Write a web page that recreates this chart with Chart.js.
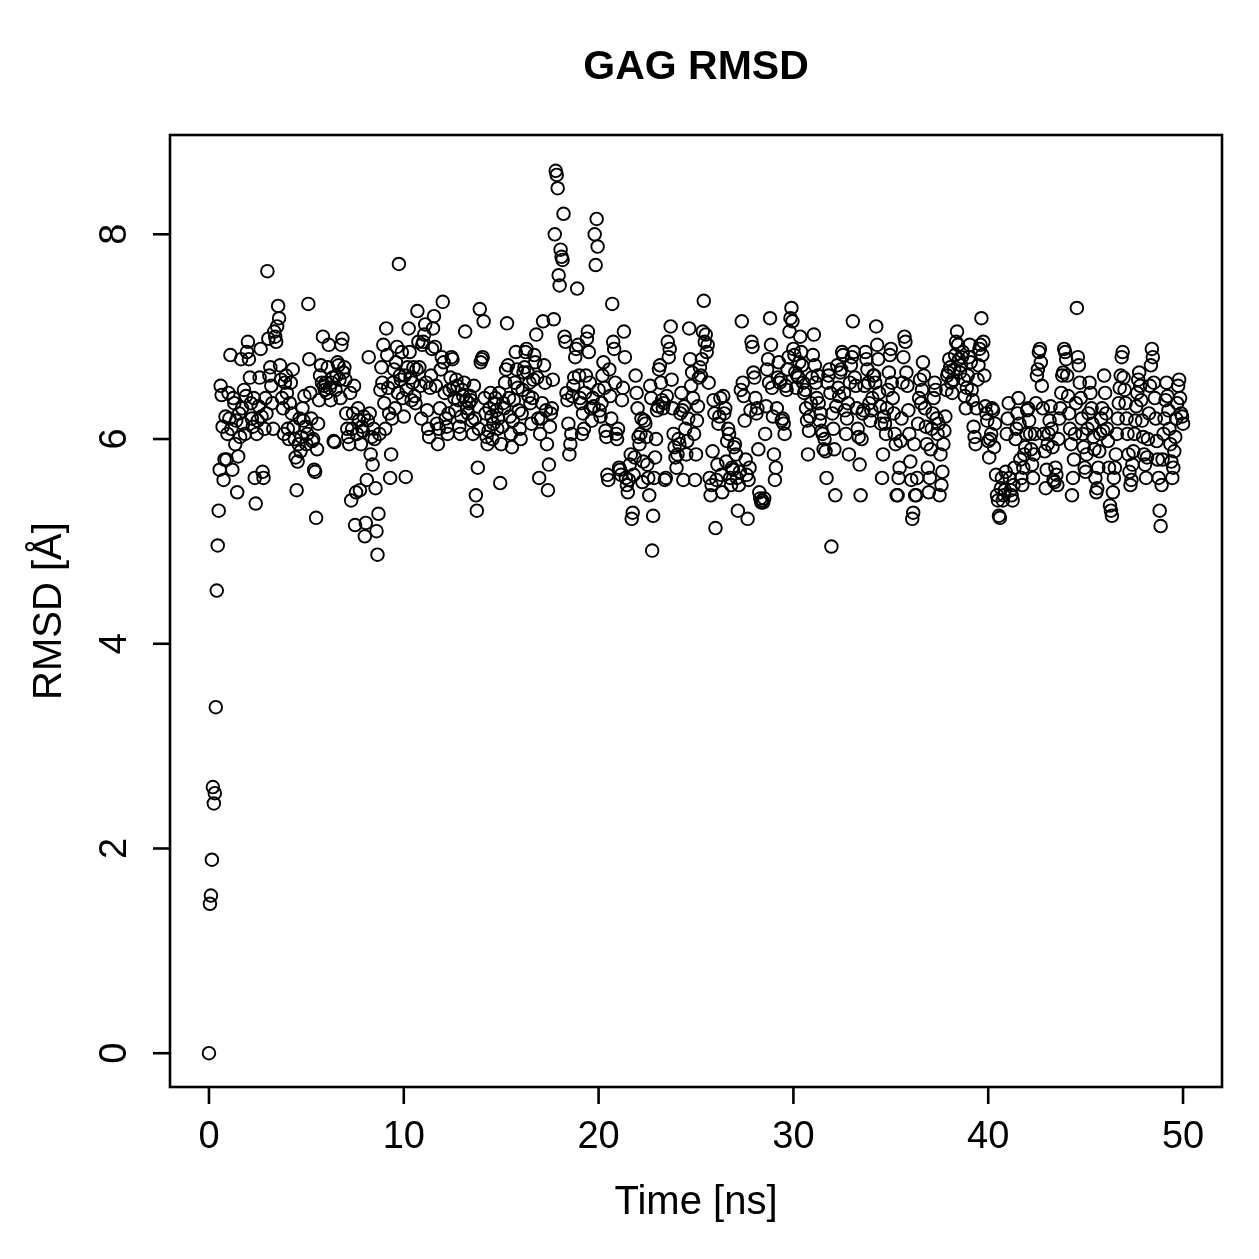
<!DOCTYPE html>
<html>
<head>
<meta charset="utf-8">
<script src="https://cdn.jsdelivr.net/npm/chart.js@4/dist/chart.umd.min.js"></script>
<style>
  body { margin: 0; background: #fff; }
  #wrap { width: 1259px; height: 1259px; }
</style>
</head>
<body>
<div id="wrap"><canvas id="rmsdChart" width="1259" height="1259"></canvas></div>
<script>
// RMSD trace, one line per nanosecond (sampled every 0.05 ns)
const timeStep = 0.05;
const rmsd = [
  0.00,1.46,1.54,1.89,2.60,2.44,2.54,3.38,4.52,4.96,5.30,5.70,6.52,6.43,6.12,5.60,5.80,6.22,5.80,6.05,
  6.45,6.20,6.82,6.10,5.70,6.40,6.35,5.95,6.18,5.48,5.83,6.25,6.02,6.78,6.30,6.15,6.48,6.05,6.42,6.85,
  6.95,6.78,6.60,6.35,6.20,6.12,6.40,5.62,5.37,6.05,6.18,6.32,6.60,6.88,6.22,5.68,5.62,6.10,6.40,6.25,
  7.64,6.98,6.62,6.70,6.52,6.35,6.10,7.05,7.00,6.95,7.10,7.30,7.18,6.72,6.58,6.40,6.30,6.05,6.55,6.62,
  6.45,6.10,6.00,6.35,6.55,6.25,6.68,6.12,6.00,5.82,5.50,5.78,5.95,6.20,5.88,6.02,6.30,6.18,6.42,6.12,
  5.95,6.05,7.32,6.78,6.45,6.20,5.98,6.00,5.70,5.68,5.23,5.90,6.15,6.38,6.62,6.72,6.55,7.00,6.52,6.48,
  6.55,6.45,6.70,6.92,6.50,6.38,6.55,6.60,5.98,5.97,6.48,6.62,6.75,6.72,6.58,6.40,6.92,6.98,6.65,6.70,
  6.58,6.25,6.10,6.02,5.95,6.45,5.40,6.10,6.25,6.52,5.16,5.48,6.05,6.30,6.18,5.50,5.95,6.12,6.08,6.22,
  5.05,5.18,5.60,6.18,6.80,6.25,5.85,6.02,5.75,6.10,6.00,5.52,5.10,4.87,5.27,6.05,6.48,6.70,6.55,6.92,
  6.35,6.10,7.08,6.82,6.50,6.25,5.62,5.85,6.20,6.55,6.68,6.30,6.75,6.90,6.45,7.71,6.62,6.58,6.85,6.40,
  6.22,6.62,5.63,6.48,6.70,7.08,6.85,6.60,6.38,6.55,6.70,6.42,6.35,6.68,7.25,6.95,6.70,6.52,6.20,6.92,
  6.95,7.02,7.12,6.55,6.28,6.10,6.02,6.50,6.62,6.88,7.08,7.20,6.90,6.52,6.15,5.95,6.10,6.30,6.68,6.80,
  7.34,6.75,6.45,6.20,6.12,6.05,6.25,6.48,6.60,6.80,6.78,6.50,6.40,6.28,6.58,6.52,6.38,6.12,6.05,6.22,
  6.48,6.42,6.55,7.05,6.38,6.30,6.25,6.35,6.42,6.38,6.18,6.05,6.52,6.20,5.45,5.30,5.72,6.10,7.27,6.75,
  6.78,6.80,7.15,6.40,6.25,6.02,5.95,6.08,6.30,6.45,6.22,6.00,6.15,6.35,6.40,6.28,6.10,6.20,6.45,5.57,
  5.95,6.12,6.35,6.30,6.55,6.68,7.13,6.72,6.40,6.22,6.05,5.92,6.18,6.38,6.55,6.85,6.68,6.50,6.28,6.10,
  6.00,6.25,6.48,6.65,6.70,6.85,6.88,6.65,6.42,6.55,6.35,6.15,6.40,6.58,6.82,6.75,7.02,6.60,6.20,5.62,
  6.05,6.20,6.35,7.15,6.72,6.55,6.28,5.95,5.50,5.75,6.12,6.25,6.30,6.58,7.17,8.00,8.62,8.58,8.45,7.60,
  7.50,7.85,7.78,7.75,8.20,7.00,6.95,6.45,6.38,6.15,5.85,5.95,6.05,6.42,6.52,6.60,6.80,6.88,7.47,6.92,
  6.62,6.40,6.35,6.05,6.25,6.10,6.45,6.62,6.98,7.05,6.85,6.55,6.30,6.18,6.40,6.32,8.00,7.70,8.15,7.88,
  6.48,6.28,6.22,6.35,6.62,6.75,6.50,6.08,6.02,5.65,5.60,6.68,6.42,6.20,7.32,6.95,6.88,6.55,6.05,6.00,
  6.10,5.72,5.70,5.65,6.38,6.50,7.05,6.80,5.62,5.55,5.48,5.60,5.75,5.85,5.22,5.28,5.65,5.82,6.62,6.45,
  6.30,6.02,5.95,6.05,6.20,5.58,5.78,6.18,6.15,6.02,5.75,5.62,5.45,6.52,6.40,4.91,5.25,5.62,5.82,6.00,
  6.28,6.32,6.68,6.72,6.55,6.38,6.30,6.35,5.60,5.62,6.42,6.95,6.80,6.88,7.10,6.58,6.30,6.05,5.92,5.82,
  5.72,5.85,6.00,5.95,6.25,6.45,6.28,5.60,6.32,6.10,5.85,5.98,6.20,7.08,6.78,6.52,6.65,6.40,6.05,5.60,
  5.85,6.18,6.32,6.60,6.70,6.62,6.78,7.05,7.35,6.95,7.02,6.85,6.92,6.55,5.62,5.45,5.55,5.88,6.38,6.25,
  5.13,5.60,5.75,6.15,6.22,6.40,5.65,5.48,6.42,6.25,6.30,5.78,5.98,6.10,6.05,5.62,5.55,5.72,5.70,5.92,
  5.95,5.85,5.62,5.30,5.55,5.68,6.48,7.15,6.55,6.42,6.18,5.80,5.65,5.22,5.60,5.72,6.28,6.95,6.90,6.65,
  6.60,6.40,6.25,6.30,5.90,5.48,5.42,5.38,5.40,5.38,5.42,6.05,6.32,6.68,6.78,6.55,7.18,6.92,6.50,6.22,
  5.85,5.60,5.72,6.30,6.60,6.75,6.55,6.58,6.18,6.20,6.15,6.05,6.52,6.48,6.68,6.80,7.05,7.18,7.28,7.15,
  6.88,6.82,6.65,6.50,6.62,6.60,6.75,7.00,6.85,6.72,6.55,6.45,6.48,6.30,6.18,5.85,6.08,6.22,6.35,6.60,
  6.82,7.02,6.72,6.55,6.40,6.62,6.35,6.18,6.25,6.08,6.05,5.90,6.00,5.88,5.62,6.55,6.62,6.68,6.45,4.95,
  6.25,6.10,5.90,5.45,6.32,6.72,6.50,6.42,6.65,6.68,6.85,6.82,6.45,6.28,6.05,6.20,6.35,5.85,6.55,6.72,
  6.80,7.15,6.85,6.60,6.52,6.30,6.10,6.02,5.75,5.45,6.00,6.25,6.28,6.52,6.85,6.78,6.68,6.55,6.35,6.18,
  6.28,6.40,6.62,6.62,6.55,7.10,6.92,6.78,6.45,6.32,6.15,5.62,5.85,6.22,6.15,6.05,6.30,6.48,6.65,6.82,
  6.88,6.55,6.40,6.25,6.05,5.95,5.45,5.45,5.62,5.72,5.98,6.20,6.55,6.80,7.00,6.95,6.65,6.52,6.28,6.05,
  5.78,5.60,5.22,5.28,5.95,5.45,5.45,5.62,6.15,6.40,6.58,6.35,6.48,6.75,6.62,6.30,6.12,5.95,5.72,5.48,
  5.62,5.90,6.10,6.25,6.40,6.55,6.48,6.20,6.05,6.15,5.45,5.85,5.55,5.68,5.95,6.08,6.22,6.48,6.62,6.65,
  6.78,6.70,6.55,6.45,6.58,6.68,6.82,6.95,7.05,6.92,6.78,6.65,6.72,6.80,6.85,6.58,6.42,6.30,6.50,6.62,
  6.80,6.92,6.75,6.48,6.38,6.12,6.02,5.95,6.30,6.58,6.72,6.88,6.92,7.18,6.82,6.95,6.62,6.32,6.25,6.18,
  5.98,5.82,6.00,6.05,6.30,6.28,5.92,6.15,5.65,5.45,5.40,5.25,5.23,5.52,5.62,5.40,5.45,5.50,5.68,6.05,
  6.20,6.35,5.62,5.50,5.45,5.40,5.55,5.72,6.00,6.10,6.25,6.40,6.15,5.80,5.62,5.55,5.72,5.85,5.92,6.05,
  6.28,6.30,6.18,6.05,5.90,5.75,5.62,5.85,6.05,6.35,6.62,6.68,6.85,6.88,6.75,6.52,6.30,6.05,5.88,5.52,
  5.70,5.95,6.05,6.18,6.32,6.10,5.92,5.60,5.58,5.72,5.65,5.55,6.00,6.20,6.30,6.45,6.62,6.65,6.88,6.85,
  6.78,6.62,6.42,6.25,6.10,5.95,5.45,5.62,5.80,6.05,6.35,7.28,6.80,6.72,6.55,6.40,6.20,6.05,5.92,5.72,
  5.68,5.85,6.10,6.25,6.55,6.45,6.30,6.15,6.02,5.90,5.62,5.48,5.52,5.72,5.88,6.05,6.20,6.30,6.08,6.62,
  6.45,6.25,6.10,5.98,5.72,5.35,5.30,5.25,5.48,5.62,5.72,5.85,6.05,6.20,6.35,6.50,6.62,6.80,6.85,6.60,
  6.48,6.35,6.20,6.05,5.85,5.68,5.55,5.60,5.75,5.88,6.05,6.18,6.32,6.45,6.58,6.65,6.52,6.38,6.18,6.02,
  5.85,5.75,5.62,5.82,6.00,6.25,6.52,6.72,6.88,6.80,6.55,6.40,6.20,5.98,5.80,5.62,5.30,5.15,5.55,5.80,
  6.05,6.20,6.38,6.55,6.42,6.28,6.10,5.95,5.78,5.62,5.72,5.88,6.02,6.20,6.35,6.52,6.58,6.40,6.25,6.22,
  6.15
];

const xTicks = [0, 10, 20, 30, 40, 50];
const yTicks = [0, 2, 4, 6, 8];
const chartTitle = "GAG RMSD";
const xTitle = "Time [ns]";
const yTitle = "RMSD [Å]";

const points = rmsd.map((v, i) => ({ x: +(i * timeStep).toFixed(2), y: v }));

// R-style frame, ticks and labels drawn through the chart's own scales
const rFrame = {
  id: 'rFrame',
  afterDraw(chart) {
    const ctx = chart.ctx;
    const a = chart.chartArea;
    const xs = chart.scales.x, ys = chart.scales.y;
    const tick = 17;
    ctx.save();
    ctx.strokeStyle = '#000';
    ctx.lineWidth = 2.6;
    ctx.strokeRect(a.left, a.top, a.right - a.left, a.bottom - a.top);

    ctx.fillStyle = '#000';
    ctx.font = '38px "Liberation Sans", Arial, sans-serif';
    ctx.textAlign = 'center';
    ctx.textBaseline = 'middle';
    xTicks.forEach(t => {
      const px = xs.getPixelForValue(t);
      ctx.beginPath();
      ctx.moveTo(px, a.bottom);
      ctx.lineTo(px, a.bottom + tick);
      ctx.stroke();
      ctx.fillText(String(t), px, a.bottom + 51);
    });
    yTicks.forEach(t => {
      const py = ys.getPixelForValue(t);
      ctx.beginPath();
      ctx.moveTo(a.left, py);
      ctx.lineTo(a.left - tick, py);
      ctx.stroke();
      ctx.save();
      ctx.translate(a.left - 54, py);
      ctx.rotate(-Math.PI / 2);
      ctx.fillText(String(t), 0, 0);
      ctx.restore();
    });

    const cx = (a.left + a.right) / 2;
    const cy = (a.top + a.bottom) / 2;
    ctx.font = '40px "Liberation Sans", Arial, sans-serif';
    ctx.fillText(xTitle, cx, a.bottom + 116);
    ctx.save();
    ctx.translate(a.left - 120, cy);
    ctx.rotate(-Math.PI / 2);
    ctx.fillText(yTitle, 0, 0);
    ctx.restore();

    ctx.font = 'bold 41px "Liberation Sans", Arial, sans-serif';
    ctx.fillText(chartTitle, cx, 68);
    ctx.restore();
  }
};

window.onload = function() {
  const ctx = document.getElementById('rmsdChart').getContext('2d');
  new Chart(ctx, {
    type: 'scatter',
    data: {
      datasets: [{
        label: 'RMSD',
        data: points,
        pointStyle: 'circle',
        pointRadius: 6.3,
        pointBorderWidth: 1.9,
        pointBackgroundColor: 'rgba(0,0,0,0)',
        pointBorderColor: '#000'
      }]
    },
    options: {
      responsive: false,
      animation: false,
      layout: { padding: { left: 170, right: 37, top: 135, bottom: 172 } },
      plugins: { legend: { display: false }, tooltip: { enabled: false } },
      scales: {
        x: { type: 'linear', min: -2, max: 52, display: false },
        y: { type: 'linear', min: -0.33, max: 8.97, display: false }
      }
    },
    plugins: [rFrame]
  });
};
</script>
</body>
</html>
